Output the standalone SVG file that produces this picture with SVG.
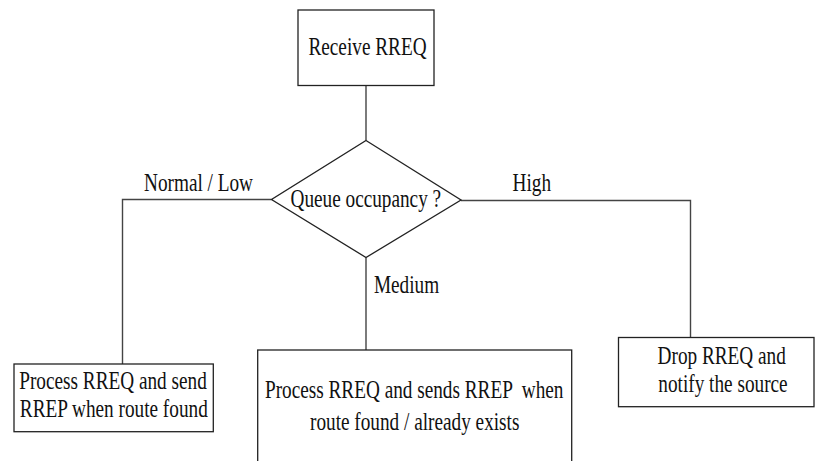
<svg xmlns="http://www.w3.org/2000/svg" width="815" height="461" viewBox="0 0 815 461">
  <style>
    .box { fill: #ffffff; stroke: #222222; stroke-width: 1.3; }
    .wire { fill: none; stroke: #444444; stroke-width: 1.4; }
    .lbl { font-family: "Liberation Serif", "Times New Roman", serif; font-size: 25px; fill: #111111; text-anchor: middle; }
  </style>
  <rect width="815" height="461" fill="#ffffff"/>

  <!-- connectors -->
  <g id="connectors">
    <path class="wire" d="M366,85.5 V140.5"/>
    <path class="wire" d="M271.5,199.5 H122.5 V364"/>
    <path class="wire" d="M366,257.5 V350"/>
    <path class="wire" d="M461,200.5 H690.5 V337.5"/>
  </g>

  <!-- branch labels (condensed serif) -->
  <g id="edge-labels">
    <text class="lbl" transform="translate(198.5,191) scale(0.77,1)">Normal / Low</text>
    <text class="lbl" transform="translate(531.8,191) scale(0.77,1)">High</text>
    <text class="lbl" transform="translate(406.5,292.5) scale(0.77,1)">Medium</text>
  </g>

  <g id="receive">
    <rect class="box" x="298" y="10" width="136" height="75.5"/>
    <text class="lbl" transform="translate(367.5,55) scale(0.77,1)">Receive RREQ</text>
  </g>

  <g id="decision">
    <polygon class="box" points="366,140.5 461,200 366,257.5 271.5,199.5"/>
    <text class="lbl" transform="translate(365.8,206.5) scale(0.77,1)">Queue occupancy ?</text>
  </g>

  <g id="process-send">
    <rect class="box" x="14" y="364" width="199.3" height="67.7"/>
    <text class="lbl" transform="translate(113,389.3) scale(0.77,1)">Process RREQ and send</text>
    <text class="lbl" transform="translate(113.8,416.7) scale(0.77,1)">RREP when route found</text>
  </g>

  <g id="process-sends">
    <rect class="box" x="257.7" y="350" width="314" height="120"/>
    <text class="lbl" transform="translate(414.2,398.3) scale(0.77,1)" xml:space="preserve">Process RREQ and sends RREP  when</text>
    <text class="lbl" transform="translate(414.7,430) scale(0.77,1)">route found / already exists</text>
  </g>

  <g id="drop">
    <rect class="box" x="618.5" y="337.5" width="195.5" height="69.2"/>
    <text class="lbl" transform="translate(721.7,364.3) scale(0.77,1)">Drop RREQ and</text>
    <text class="lbl" transform="translate(723,392.3) scale(0.77,1)">notify the source</text>
  </g>
</svg>
